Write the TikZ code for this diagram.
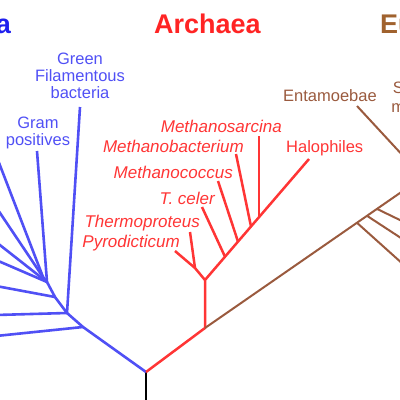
\documentclass[tikz,border=0pt]{standalone}
\usepackage{fontspec}
\setmainfont{Liberation Sans}
\usetikzlibrary{positioning}
\definecolor{bactBlue}{HTML}{5050F5}
\definecolor{bactTitle}{HTML}{2020EE}
\definecolor{archRed}{HTML}{FF3535}
\definecolor{archTitle}{HTML}{FF2424}
\definecolor{eukBrown}{HTML}{9A5A3E}
\definecolor{eukTitle}{HTML}{A0622E}

\begin{document}
\begin{tikzpicture}[x=1pt, y=-1pt,
    domainTitle/.style={font=\fontsize{27}{30}\selectfont\bfseries, inner sep=0pt, anchor=base},
    taxonLabel/.style={font=\fontsize{16.5}{17}\selectfont, inner sep=0pt, align=center, anchor=base},
    genusLabel/.style={font=\fontsize{17}{18}\selectfont\itshape, inner sep=0pt, anchor=base east, text=archRed},
    bactBranch/.style={draw=bactBlue, line width=2.6pt, line join=round},
    archBranch/.style={draw=archRed, line width=2.5pt, line join=round},
    eukBranch/.style={draw=eukBrown, line width=2pt, line join=round},
    rootBranch/.style={draw=black, line width=2pt}
]
    \useasboundingbox (0,0) rectangle (400,400);
    \clip (0,0) rectangle (400,400);

    % domain titles
    \node[domainTitle, anchor=base east, text=bactTitle] (bacteria) at (11,33) {Bacteria};
    \node[domainTitle, text=archTitle] (archaea) at (207.5,33) {Archaea};
    \node[domainTitle, anchor=base west, text=eukTitle] (eukaryota) at (380,33) {Eukaryota};

    % taxon labels (multi-line: base is the last line)
    \node[taxonLabel, text=bactBlue] (greenFil) at (80,98) {Green\\Filamentous\\bacteria};
    \node[taxonLabel, text=bactBlue] (gramPos) at (38,145) {Gram\\positives};
    \node[taxonLabel, anchor=base west, text=archRed] (halo) at (286,152) {Halophiles};
    \node[taxonLabel, anchor=base west, text=eukBrown] (entam) at (283,101) {Entamoebae};
    \node[taxonLabel, font=\fontsize{16.5}{19}\selectfont, text=eukBrown] (slime) at (413.5,112) {Slime\\molds};

    \node[genusLabel] (mSarcina) at (282,132) {Methanosarcina};
    \node[genusLabel] (mBacter) at (244,152) {Methanobacterium};
    \node[genusLabel] (mCoccus) at (233,178) {Methanococcus};
    \node[genusLabel] (tCeler) at (215,204) {T. celer};
    \node[genusLabel] (thermo) at (200,227) {Thermoproteus};
    \node[genusLabel] (pyro) at (180,247) {Pyrodicticum};

    % junctions
    \coordinate (root) at (146,372);
    \coordinate (rootEnd) at (146,405);
    \coordinate (bJ1) at (83,327);
    \coordinate (bJ2) at (67,313);
    \coordinate (bJ3) at (55,297);
    \coordinate (bJ4) at (47,282);
    \coordinate (bJ5) at (43,277);
    \coordinate (aJ1) at (205,328);
    \coordinate (aJ2) at (205,280);
    \coordinate (aJ3) at (195,268);
    \coordinate (tcJ) at (225,256.7);
    \coordinate (mcJ) at (238,241.6);
    \coordinate (mbJ) at (251,226.5);
    \coordinate (msJ) at (259,217);
    \coordinate (eJ1) at (357,222.8);
    \coordinate (eJ2) at (367,215.8);
    \coordinate (eJ3) at (377,208.9);

    % tips
    \coordinate (gfTip) at (80,107);
    \coordinate (gpTip) at (37,151);
    \coordinate (bTip1) at (-4,155);
    \coordinate (bTip2) at (-4,207);
    \coordinate (bTip3) at (-4,242);
    \coordinate (bTip4) at (-4,260);
    \coordinate (bTip5) at (-4,286);
    \coordinate (bTip6) at (-4,315);
    \coordinate (bTip7) at (-4,336);
    \coordinate (haTip) at (309,159);
    \coordinate (msTip) at (259,136);
    \coordinate (mbTip) at (236,154);
    \coordinate (mcTip) at (218,181);
    \coordinate (tcTip) at (202,207);
    \coordinate (thTip) at (190,232);
    \coordinate (pyTip) at (175,251);
    \coordinate (eTip) at (406,188.8);
    \coordinate (eTip1) at (404,265);
    \coordinate (eTip2) at (404,240);
    \coordinate (eTip3) at (404,222);
    \coordinate (enTip) at (357,106);
    \coordinate (enEnd) at (406,159);

    % root
    \draw[rootBranch] (root) -- (rootEnd);

    % bacteria
    \draw[bactBranch] (root) -- (bJ1) -- (bJ2) -- (bJ3) -- (bJ4) -- (bJ5);
    \draw[bactBranch] (bJ2) -- (gfTip);
    \draw[bactBranch] (bJ4) -- (gpTip);
    \draw[bactBranch] (bJ5) -- (bTip1);
    \draw[bactBranch] (bJ5) -- (bTip2);
    \draw[bactBranch] (bJ4) -- (bTip3);
    \draw[bactBranch] (bJ4) -- (bTip4);
    \draw[bactBranch] (bJ3) -- (bTip5);
    \draw[bactBranch] (bJ2) -- (bTip6);
    \draw[bactBranch] (bJ1) -- (bTip7);

    % archaea
    \draw[archBranch] (root) -- (aJ1) -- (aJ2) -- (haTip);
    \draw[archBranch] (aJ2) -- (aJ3) -- (pyTip);
    \draw[archBranch] (aJ3) -- (thTip);
    \draw[archBranch] (tcJ) -- (tcTip);
    \draw[archBranch] (mcJ) -- (mcTip);
    \draw[archBranch] (mbJ) -- (mbTip);
    \draw[archBranch] (msJ) -- (msTip);

    % eukaryota
    \draw[eukBranch] (aJ1) -- (eTip);
    \draw[eukBranch] (eJ1) -- (eTip1);
    \draw[eukBranch] (eJ2) -- (eTip2);
    \draw[eukBranch] (eJ3) -- (eTip3);
    \draw[eukBranch] (enTip) -- (enEnd);
\end{tikzpicture}
\end{document}
